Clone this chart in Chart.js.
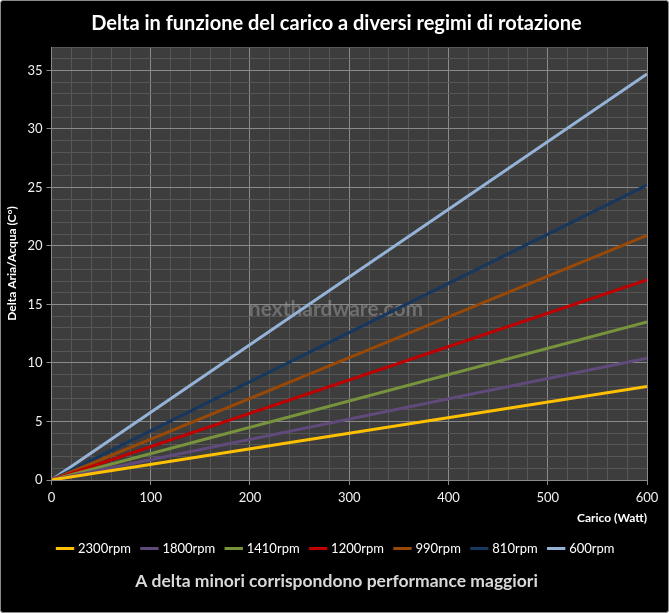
<!DOCTYPE html>
<html>
<head>
<meta charset="utf-8">
<script src="https://cdn.jsdelivr.net/npm/chart.js@4.4.1/dist/chart.umd.min.js"></script>
<style>
  html, body { margin: 0; padding: 0; background: #fff; }
  #wrap {
    width: 667px; height: 611px;
    border: 1px solid #8a8a8a;
    border-radius: 3px;
    background: #000;
    position: relative;
  }
</style>
</head>
<body>
<div id="wrap"><canvas id="deltaChart" width="667" height="611"></canvas></div>
<script>
// carico in Watt
const loads = [0, 600];

const series = ['2300rpm', '1800rpm', '1410rpm', '1200rpm', '990rpm', '810rpm', '600rpm'];
const delta2300 = [0, 8.0];
const delta1800 = [0, 10.4];
const delta1410 = [0, 13.5];
const delta1200 = [0, 17.1];
const delta990 = [0, 20.9];
const delta810 = [0, 25.2];
const delta600 = [0, 34.7];

const colors = ['#FFC000', '#604A7B', '#77933C', '#C00000', '#984807', '#17375E', '#95B3D7'];
const values = [delta2300, delta1800, delta1410, delta1200, delta990, delta810, delta600];

const font = 'Lato, "Open Sans", sans-serif';

// scritta in filigrana al centro del grafico
const watermark = {
  id: 'watermark',
  beforeDatasetsDraw(chart) {
    const { ctx } = chart;
    ctx.save();
    ctx.font = 'bold 21px ' + font;
    ctx.fillStyle = 'rgba(160,160,160,0.5)';
    ctx.textAlign = 'center';
    ctx.textBaseline = 'middle';
    ctx.fillText('nexthardware.com', 335, 308);
    ctx.restore();
  }
};

// sfondo dell'area del grafico
const plotBg = {
  id: 'plotBg',
  beforeDraw(chart) {
    const { ctx, chartArea } = chart;
    ctx.save();
    ctx.fillStyle = '#3d3d3d';
    ctx.fillRect(chartArea.left, chartArea.top, chartArea.right - chartArea.left, chartArea.bottom - chartArea.top);
    ctx.restore();
  }
};

const datasets = series.map((name, i) => ({
  label: name,
  data: loads.map((x, j) => ({ x: x, y: values[i][j] })),
  borderColor: colors[i],
  backgroundColor: colors[i],
  borderWidth: 3,
  pointRadius: 0,
  tension: 0,
  fill: false
}));

new Chart(document.getElementById('deltaChart'), {
  type: 'line',
  data: { datasets: datasets },
  plugins: [plotBg, watermark],
  options: {
    responsive: false,
    animation: false,
    layout: { padding: { left: 4, right: 0, top: 0, bottom: 8 } },
    scales: {
      x: {
        type: 'linear',
        min: 0,
        max: 600,
        // margine destro dell'area del grafico, senza spostare titolo e legenda
        afterFit: s => { s.paddingRight = 21; },
        ticks: {
          stepSize: 20,
          autoSkip: false,
          maxRotation: 0,
          color: '#f0f0f0',
          font: { family: font, size: 13 },
          padding: 5,
          callback: v => (v % 100 === 0 ? v : '')
        },
        grid: {
          color: c => (c.tick && c.tick.value % 100 === 0 ? '#8a8a8a' : '#565656'),
          tickColor: c => (c.tick && c.tick.value % 100 === 0 ? '#8a8a8a' : 'rgba(0,0,0,0)'),
          tickLength: 5
        },
        border: { color: '#8a8a8a' },
        title: {
          display: true,
          text: 'Carico (Watt)',
          align: 'end',
          color: '#ffffff',
          font: { family: font, size: 12, weight: 'bold' },
          padding: { top: 0, bottom: 5 }
        }
      },
      y: {
        min: 0,
        max: 37,
        ticks: {
          stepSize: 1,
          autoSkip: false,
          color: '#f0f0f0',
          font: { family: font, size: 13 },
          padding: 4,
          callback: v => (v % 5 === 0 ? v : '')
        },
        grid: {
          color: c => (c.tick && c.tick.value % 5 === 0 ? '#8a8a8a' : '#565656'),
          tickColor: c => (c.tick && c.tick.value % 5 === 0 ? '#8a8a8a' : 'rgba(0,0,0,0)'),
          tickLength: 5
        },
        border: { color: '#8a8a8a' },
        title: {
          display: true,
          text: 'Delta Aria/Acqua (C°)',
          color: '#ffffff',
          font: { family: font, size: 12, weight: 'bold' },
          padding: { top: 0, bottom: 4 }
        }
      }
    },
    plugins: {
      title: {
        display: true,
        text: 'Delta in funzione del carico a diversi regimi di rotazione',
        color: '#ffffff',
        font: { family: font, size: 20, weight: 'bold' },
        padding: { top: 11, bottom: 11 }
      },
      subtitle: {
        display: true,
        position: 'bottom',
        text: 'A delta minori corrispondono performance maggiori',
        color: '#d9d9d9',
        font: { family: font, size: 17.5, weight: 'bold' },
        padding: { top: 6, bottom: 12 }
      },
      legend: {
        position: 'bottom',
        labels: {
          usePointStyle: true,
          pointStyle: 'line',
          boxWidth: 28,
          padding: 12,
          color: '#ffffff',
          font: { family: font, size: 13 }
        }
      },
      tooltip: { enabled: false }
    }
  }
});
</script>
</body>
</html>
